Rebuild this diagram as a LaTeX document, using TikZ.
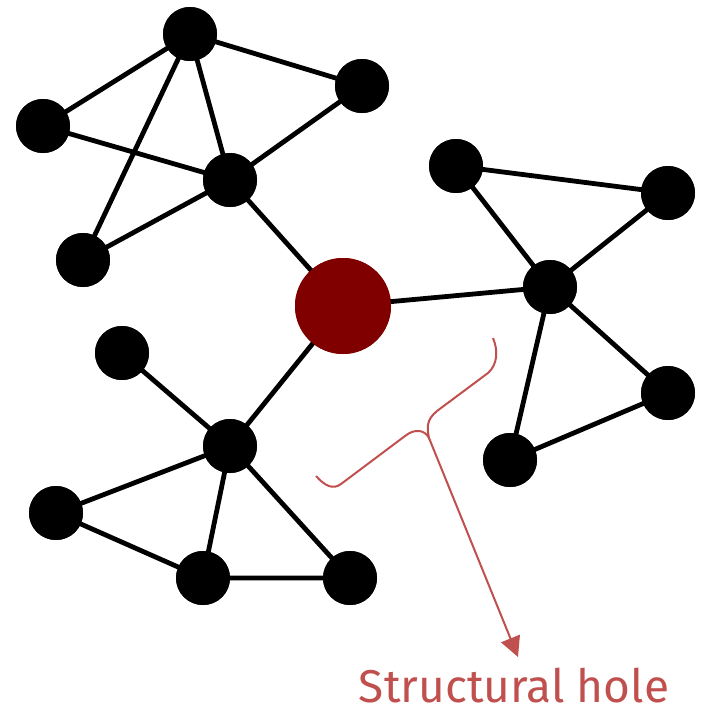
\documentclass[tikz,border=0pt]{standalone}
\usepackage{fontspec}
\setmainfont{Fira Sans}
\usetikzlibrary{arrows.meta}
\definecolor{hubred}{HTML}{800000}
\definecolor{labred}{HTML}{C0504D}
\begin{document}
\begin{tikzpicture}[x=1pt,y=-1pt,
  vtx/.style={circle,fill=black,minimum size=54pt,inner sep=0pt},
  hub/.style={circle,fill=hubred,minimum size=96pt,inner sep=0pt},
  edge/.style={line width=4.8pt,black},
  annot/.style={labred,line width=2pt}]
\useasboundingbox (0,0) rectangle (707,716);
\node[hub] (c) at (343,306) {};
% top-left
\node[vtx] (a) at (190,34) {};
\node[vtx] (b) at (43,126) {};
\node[vtx] (cc) at (362,86) {};
\node[vtx] (d) at (230,180) {};
\node[vtx] (e) at (83,260) {};
% right
\node[vtx] (f) at (456,166) {};
\node[vtx] (g) at (668,193) {};
\node[vtx] (h) at (550,287) {};
\node[vtx] (i) at (668,393) {};
\node[vtx] (j) at (510,460) {};
% bottom-left
\node[vtx] (k) at (122,353) {};
\node[vtx] (l) at (230,446) {};
\node[vtx] (m) at (56,513) {};
\node[vtx] (n) at (203,578) {};
\node[vtx] (o) at (350,578) {};
\draw[edge] (a.center)--(b.center) (a.center)--(cc.center) (a.center)--(d.center) (a.center)--(e.center)
  (b.center)--(d.center) (cc.center)--(d.center) (d.center)--(e.center) (d.center)--(c.center);
\draw[edge] (f.center)--(h.center) (f.center)--(g.center) (g.center)--(h.center) (h.center)--(i.center)
  (h.center)--(j.center) (i.center)--(j.center) (h.center)--(c.center);
\draw[edge] (k.center)--(l.center) (l.center)--(m.center) (l.center)--(n.center) (l.center)--(o.center)
  (m.center)--(n.center) (n.center)--(o.center) (l.center)--(c.center);
% redraw nodes on top
\node[hub] at (c) {};
\foreach \v in {a,b,cc,d,e,f,g,h,i,j,k,l,m,n,o} \node[vtx] at (\v) {};
% brace
\coordinate (bl) at (316,476);
\coordinate (br) at (493,338);
\coordinate (tip) at (429,438);
\draw[annot] (bl) .. controls (325,486) and (333,490) .. (341,484)
  -- (405,436) .. controls (415,428) and (425,430) .. (tip)
  .. controls (427,428) and (426,420) .. (437,411)
  -- (488,373) .. controls (498,364) and (498,350) .. (br);
\node[inner sep=0pt,anchor=base,text=labred,font=\fontsize{46}{48}\selectfont] (lab) at (514,702) {Structural hole};
\coordinate (ah) at (518,657);
\draw[annot,-{Triangle[length=20pt,width=20pt]}] (tip) -- (ah);
\end{tikzpicture}
\end{document}
